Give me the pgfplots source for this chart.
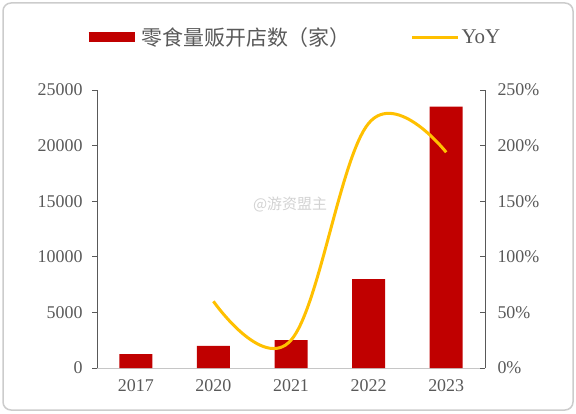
\documentclass[border=0pt]{standalone}
\usepackage{fontspec}
\setmainfont{Liberation Serif}
\newfontfamily\cjk{Noto Sans CJK SC}
\usepackage{pgfplots}
\pgfplotsset{compat=1.18}
\definecolor{barred}{HTML}{C00000}
\definecolor{lineyel}{HTML}{FFC000}
\definecolor{txtgray}{HTML}{595959}
\begin{document}
\begin{tikzpicture}[x=1bp,y=1bp]
\path[use as bounding box] (0,0) rectangle (576,413);
\draw[gray!40, line width=1.5bp, rounded corners=8bp] (3,3) rectangle (573,410);
\node[text=gray!35, font=\cjk\fontsize{15}{15}\selectfont] at (290,208) {@游资盟主};
\begin{axis}[
  at={(97bp,45bp)}, anchor=south west,
  scale only axis, width=388bp, height=278bp,
  xmin=-0.5, xmax=4.5, ymin=0, ymax=25000,
  ytick={0,5000,10000,15000,20000,25000},
  xtick={0,1,2,3,4}, xticklabels={2017,2020,2021,2022,2023},
  axis x line*=bottom, axis y line*=left,
  separate axis lines,
  x axis line style={draw=gray!45, line width=0.8bp, -},
  y axis line style={draw=txtgray, line width=0.8bp, -},
  y tick style={draw=txtgray, line width=0.8bp},
  major tick length=5bp,
  x tick style={draw=none},
  tick align=outside,
  scaled y ticks=false,
  /pgf/number format/assume math mode=true,
  /pgf/number format/1000 sep={},
  tick label style={text=txtgray, font=\fontsize{18}{18}\selectfont},
  yticklabel style={xshift=-6bp},
  xticklabel style={yshift=-3bp},
]
\addplot[ybar, bar width=33bp, fill=barred, draw=none] coordinates {
(0,1250) (1,2000) (2,2500) (3,8000) (4,23500)};
\end{axis}
\begin{axis}[
  at={(97bp,45bp)}, anchor=south west,
  scale only axis, width=388bp, height=278bp,
  xmin=-0.5, xmax=4.5, ymin=0, ymax=250,
  ytick={0,50,100,150,200,250},
  yticklabel={\pgfmathprintnumber{\tick}\%},
  axis x line=none, axis y line*=right,
  y axis line style={draw=txtgray, line width=0.8bp, -},
  y tick style={draw=txtgray, line width=0.8bp},
  major tick length=5bp,
  tick align=inside,
  /pgf/number format/assume math mode=true,
  tick label style={text=txtgray, font=\fontsize{18}{18}\selectfont},
  yticklabel style={xshift=9bp},
  legend style={at={(-0.043,1.19)}, anchor=west, draw=none, fill=none,
    legend columns=2, font=\fontsize{21}{21}\selectfont, text=txtgray,
    /tikz/every even column/.append style={column sep=58bp}},
  legend image code/.code={\draw[#1] (0bp,0bp) -- (46bp,0bp);},
]
\addlegendimage{draw=barred, line width=10bp}
\addlegendentry{\cjk 零食量贩开店数（家）}
\addplot[draw=lineyel, line width=3bp, smooth, tension=0.65] coordinates {
(1,60) (2,25) (3,220) (4,194)};
\addlegendentry{YoY}
\end{axis}
\end{tikzpicture}
\end{document}
